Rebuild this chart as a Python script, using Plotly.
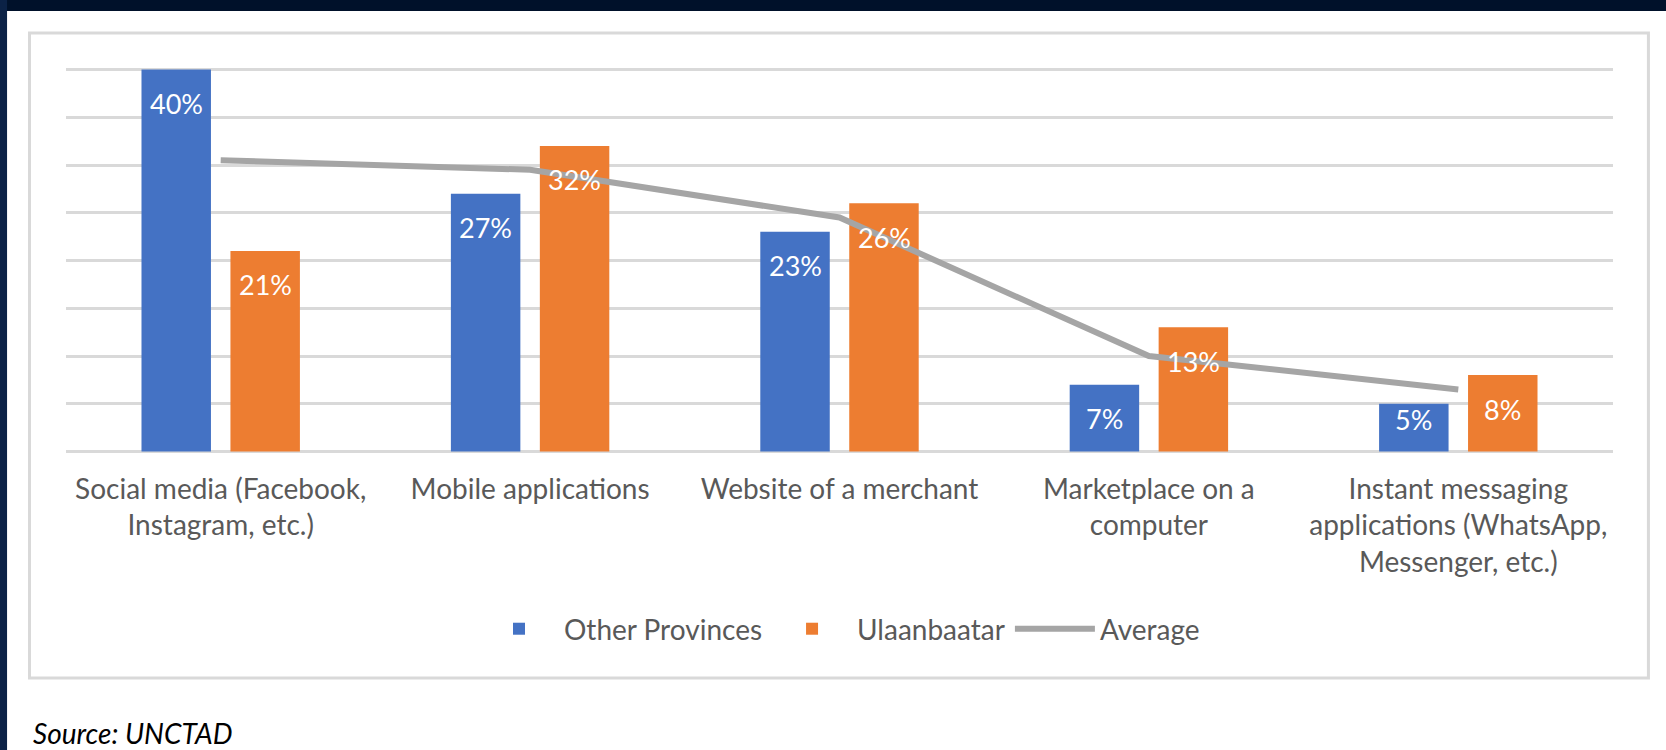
import plotly.graph_objects as go

categories = [
    "Social media (Facebook,<br>Instagram, etc.)",
    "Mobile applications",
    "Website of a merchant",
    "Marketplace on a<br>computer",
    "Instant messaging<br>applications (WhatsApp,<br>Messenger, etc.)",
]
other_provinces = [40, 27, 23, 7, 5]
ulaanbaatar = [21, 32, 26, 13, 8]
average = [30.5, 29.5, 24.5, 10, 6.5]
y_ticks = [0, 5, 10, 15, 20, 25, 30, 35, 40]

BLUE = "#4472C4"
ORANGE = "#ED7D31"
GREY = "#A5A5A5"
TEXT = "#595959"
FONT = "Lato"
FS = 28

fig = go.Figure()
fig.add_trace(go.Bar(name="Other Provinces", x=categories, y=other_provinces,
                     marker=dict(color=BLUE, line=dict(width=0))))
fig.add_trace(go.Bar(name="Ulaanbaatar", x=categories, y=ulaanbaatar,
                     marker=dict(color=ORANGE, line=dict(width=0))))
fig.add_trace(go.Scatter(name="Average", x=categories, y=average, mode="lines",
                         line=dict(color=GREY, width=6)))

# data labels (inside end)
LABEL_MIN = 6.86
annotations = []
for vals, shift in ((other_provinces, -44.5), (ulaanbaatar, 44.5)):
    for c, v in zip(categories, vals):
        annotations.append(dict(
            x=c, y=max(v, LABEL_MIN), xref="x", yref="y", xshift=shift, yshift=-34,
            text=f"{v}%", showarrow=False, xanchor="center", yanchor="middle",
            font=dict(family=FONT, size=27, color="white")))

annotations.append(dict(
    x=-0.0226, y=-0.7228, xref="paper", yref="paper", xanchor="left", yanchor="middle",
    text="<i>Source: UNCTAD</i>", showarrow=False,
    font=dict(family=FONT, size=FS, color="#000000")))

shapes = [
    # chart frame
    dict(type="rect", xref="paper", yref="paper", x0=-0.0236, x1=1.0229, y0=-0.5803, y1=1.0907,
         line=dict(color="#D9D9D9", width=3), fillcolor="rgba(0,0,0,0)", layer="below"),
    # dark page band on top and left
    dict(type="rect", xref="paper", yref="paper", x0=-0.06, x1=1.06, y0=1.1477, y1=1.25,
         line=dict(width=0), fillcolor="#00112A"),
    dict(type="rect", xref="paper", yref="paper", x0=-0.06, x1=-0.0381, y0=-0.85, y1=1.25,
         line=dict(width=0), fillcolor="#0B2246"),
]

fig.update_layout(
    width=1666, height=750,
    margin=dict(l=66, r=53, t=68, b=296, pad=0),
    paper_bgcolor="white", plot_bgcolor="white",
    barmode="group", bargap=0.425, bargroupgap=0.219,
    font=dict(family=FONT, size=FS, color=TEXT),
    showlegend=True,
    legend=dict(orientation="h", x=0.5, xanchor="center", y=0.1613, yanchor="middle",
                yref="container", font=dict(family=FONT, size=FS, color=TEXT),
                bgcolor="rgba(0,0,0,0)", itemwidth=80),
    annotations=annotations,
    shapes=shapes,
)
fig.update_xaxes(range=[-0.5, 4.5], showgrid=False, showline=False, zeroline=False,
                 ticks="", tickangle=0, ticklabelstandoff=16,
                 tickfont=dict(family=FONT, size=FS, color=TEXT))
fig.update_yaxes(range=[-0.262, 40.157], tickvals=y_ticks, showticklabels=False,
                 showgrid=True, gridcolor="#D9D9D9", gridwidth=3, zeroline=False,
                 showline=False, ticks="")

fig.write_html("out.html", config={"displayModeBar": False},
               post_script="document.body.style.margin='0px';")
